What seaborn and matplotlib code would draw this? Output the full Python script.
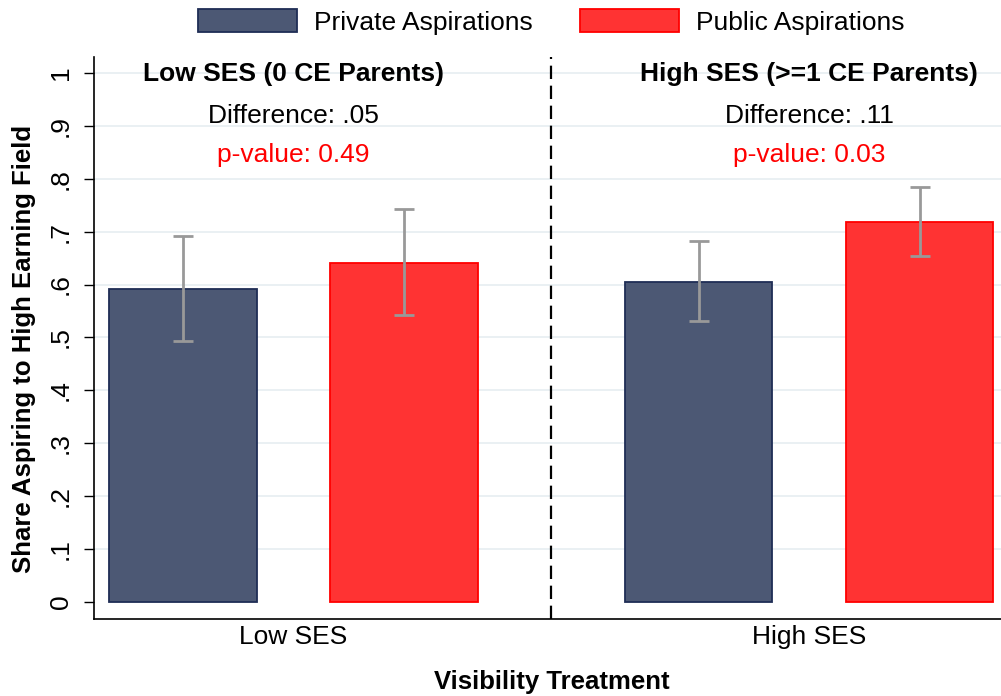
import numpy as np
import pandas as pd
import matplotlib
matplotlib.use("Agg")
import matplotlib.pyplot as plt
import seaborn as sns
from matplotlib.patches import Patch

groups = ["Low SES", "High SES"]
series = ["Private Aspirations", "Public Aspirations"]
private_vals = [0.592, 0.605]
public_vals = [0.641, 0.718]
private_lo = [0.493, 0.531]
private_hi = [0.692, 0.682]
public_lo = [0.543, 0.654]
public_hi = [0.743, 0.784]
panel_titles = ["Low SES (0 CE Parents)", "High SES (>=1 CE Parents)"]
diff_labels = ["Difference: .05", "Difference: .11"]
p_labels = ["p-value: 0.49", "p-value: 0.03"]
yticks = [0, 0.1, 0.2, 0.3, 0.4, 0.5, 0.6, 0.7, 0.8, 0.9, 1.0]
ytick_labels = ["0", ".1", ".2", ".3", ".4", ".5", ".6", ".7", ".8", ".9", "1"]

sns.set_theme(style="white")
plt.rcParams['font.family'] = ['Liberation Sans', 'DejaVu Sans']
plt.rcParams['text.color'] = 'black'
plt.rcParams['axes.labelcolor'] = 'black'
plt.rcParams['xtick.color'] = 'black'
plt.rcParams['ytick.color'] = 'black'

df = pd.DataFrame({
    "group": groups * 2,
    "series": [series[0]] * 2 + [series[1]] * 2,
    "value": private_vals + public_vals,
    "lo": private_lo + public_lo,
    "hi": private_hi + public_hi,
})

W, H = 1001, 696
ax_left, ax_right, ax_top, ax_bottom = 94, 1001, 57, 619
fig = plt.figure(figsize=(W / 100, H / 100), dpi=100)
ax = fig.add_axes([ax_left / W, 1 - ax_bottom / H, (ax_right - ax_left) / W,
                   (ax_bottom - ax_top) / H])

fills = {series[0]: "#4C5874", series[1]: "#FF3333"}
edges = {series[0]: "#1F2D55", series[1]: "#FF0000"}

sns.barplot(data=df, x="group", y="value", hue="series", order=groups,
            hue_order=series, palette=fills, saturation=1, width=0.857, gap=0.334,
            errorbar=None, ax=ax, legend=False, zorder=2)

for cont, s in zip(ax.containers, series):
    sub = df[df["series"] == s].set_index("group").loc[groups]
    xs = []
    for patch in cont.patches:
        patch.set_edgecolor(edges[s])
        patch.set_linewidth(1.3)
        xs.append(patch.get_x() + patch.get_width() / 2)
    xs = np.array(xs)
    v = sub["value"].values
    yerr = np.vstack([v - sub["lo"].values, sub["hi"].values - v])
    ax.errorbar(xs, v, yerr=yerr, fmt="none", ecolor="#999999", elinewidth=2,
                capsize=7, capthick=2, zorder=3)

ax.set_xlim(-0.387, 1.372)
ax.set_ylim(-0.032, 1.030)
ax.set_yticks(yticks)
ax.set_yticklabels(ytick_labels, rotation=90, va="center", fontsize=19)
ax.tick_params(axis="y", length=7.2, width=1, color="black", direction="out", left=True, pad=8)
ax.tick_params(axis="x", length=0, labelsize=19, pad=4)
for t in yticks[1:]:
    ax.axhline(t, color="#EAF0F3", lw=1.4, zorder=0)

for sp in ["top", "right"]:
    ax.spines[sp].set_visible(False)
for sp in ["left", "bottom"]:
    ax.spines[sp].set_color("black")
    ax.spines[sp].set_linewidth(1.2)

ax.axvline(0.5, color="black", lw=1.6, ls=(0, (6, 3)), zorder=1)

ax.set_ylabel("Share Aspiring to High Earning Field", fontsize=18.5, fontweight="bold")
ax.yaxis.set_label_coords(-0.064, 0.48)
ax.set_xlabel("Visibility Treatment", fontsize=18.5, fontweight="bold")
ax.xaxis.set_label_coords(0.505, -0.09)

for i in range(len(groups)):
    ax.text(i, 0.998, panel_titles[i], ha="center", va="center", fontsize=19, fontweight="bold")
    ax.text(i, 0.919, diff_labels[i], ha="center", va="center", fontsize=19)
    ax.text(i, 0.845, p_labels[i], ha="center", va="center", fontsize=19, color="red")

handles = [Patch(facecolor=fills[s], edgecolor=edges[s], lw=1.3) for s in series]
fig.legend(handles, series, loc="upper center", bbox_to_anchor=(0.551, 1.021), ncol=2,
           frameon=False, fontsize=19, handlelength=3.75, handleheight=0.95,
           handletextpad=0.64, columnspacing=1.8)

fig.savefig("out.png", dpi=100)
